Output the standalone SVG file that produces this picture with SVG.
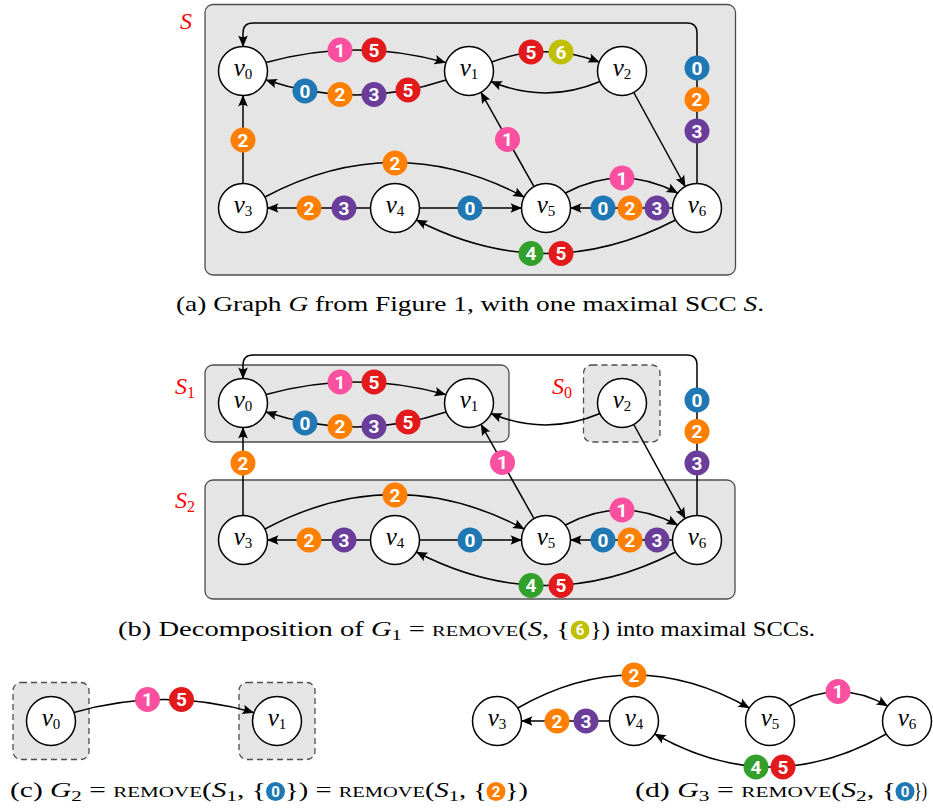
<svg xmlns="http://www.w3.org/2000/svg" width="933" height="810" viewBox="0 0 933 810">
<style>
.box{fill:#e5e5e5;stroke:#4d4d4d;stroke-width:1.3}
.dbox{fill:#e5e5e5;stroke:#4d4d4d;stroke-width:1.3;stroke-dasharray:6 4}
.node circle{fill:#fff;stroke:#000;stroke-width:1.5}
.nl{font-family:"Liberation Serif",serif;font-style:italic;font-size:25px;text-anchor:middle;fill:#000}
.sub{font-style:normal;font-size:15px}
.e{fill:none;stroke:#000;stroke-width:1.5}
.a{marker-end:url(#arr)}
.bt{font-family:Roboto,"Liberation Sans",sans-serif;font-weight:700;font-size:19px;fill:#fff;text-anchor:middle}
.bs{font-family:Roboto,"Liberation Sans",sans-serif;font-weight:700;font-size:15px;fill:#fff;text-anchor:middle}
.k0{fill:#1f78b4}.k1{fill:#fb4fa0}.k2{fill:#ff7f00}.k3{fill:#6a3d9a}.k4{fill:#33a02c}.k5{fill:#e31a1c}.k6{fill:#c0bf00}
.lab{font-family:"Liberation Serif",serif;font-style:italic;font-size:24px;fill:#ff0000}
.lsub{font-style:normal;font-size:16px}
.cap{font-family:"Liberation Serif",serif;font-size:21px;fill:#000}
.i{font-style:italic}
.sc{font-variant:small-caps}
.cs{font-size:15px}
</style>
<defs>
<marker id="arr" viewBox="-12 -6 13 12" refX="0" refY="0" markerWidth="13" markerHeight="12" markerUnits="userSpaceOnUse" orient="auto">
<path d="M0.5,0 L-11,-4.8 Q-7.5,0 -11,4.8 Z" fill="#000"/>
</marker>
</defs>

<g id="boxes">
<rect class="box" x="205" y="4.5" width="530.5" height="270.5" rx="8"/>
<rect class="box" x="205" y="365" width="304" height="77" rx="8"/>
<rect class="dbox" x="583.5" y="365" width="76.5" height="77" rx="8"/>
<rect class="box" x="205" y="480" width="530" height="119" rx="8"/>
<rect class="dbox" x="13" y="682.5" width="76" height="77" rx="8"/>
<rect class="dbox" x="239" y="682.5" width="76" height="77" rx="8"/>
</g>
<g id="labels">
<text class="lab" x="180" y="29">S</text>
<text class="lab" x="175" y="394">S<tspan class="lsub" dy="4">1</tspan></text>
<text class="lab" x="552" y="394">S<tspan class="lsub" dy="4">0</tspan></text>
<text class="lab" x="175" y="508">S<tspan class="lsub" dy="4">2</tspan></text>
</g>

<g id="connectors">
<path class="e a" d="M266,62.5 C326,45.8 385.7,45.8 445.5,62.5"/>
<path class="e a" d="M446,80 C386,100 326,100 266,80"/>
<path class="e a" d="M491.8,62 C527.6,48.2 563.4,48.2 599.2,62"/>
<path class="e a" d="M600,81.5 C563.7,96.8 527.3,96.8 491,81.5"/>
<path class="e a" d="M697,183.5 V33 Q697,23 687,23 H253 Q243,23 243,33 V46.5"/>
<path class="e a" d="M633.8,92.5 L685.2,186.5"/>
<path class="e a" d="M534,186.6 L481,92.4"/>
<path class="e a" d="M243,183.5 L243,95.5"/>
<path class="e a" d="M264.9,197 C351.3,151 437.7,151 524.1,197"/>
<path class="e a" d="M370.5,208 L267.5,208"/>
<path class="e a" d="M419.5,208 L521.5,208"/>
<path class="e a" d="M672.5,208 L570.5,208"/>
<path class="e a" d="M565.4,193 C602.8,173 640.2,173 677.6,193"/>
<path class="e a" d="M675.6,220 C589.2,264.7 502.8,264.7 416.4,220"/>
<path class="e a" d="M266,394.5 C326,377.8 385.7,377.8 445.5,394.5"/>
<path class="e a" d="M446,412 C386,432 326,432 266,412"/>
<path class="e a" d="M600,413.5 C563.7,428.8 527.3,428.8 491,413.5"/>
<path class="e a" d="M697,515.5 V365 Q697,355 687,355 H253 Q243,355 243,365 V378.5"/>
<path class="e a" d="M633.8,424.5 L685.2,518.5"/>
<path class="e a" d="M534,518.6 L481,424.4"/>
<path class="e a" d="M243,515.5 L243,427.5"/>
<path class="e a" d="M264.9,529 C351.3,483 437.7,483 524.1,529"/>
<path class="e a" d="M370.5,540 L267.5,540"/>
<path class="e a" d="M419.5,540 L521.5,540"/>
<path class="e a" d="M672.5,540 L570.5,540"/>
<path class="e a" d="M565.4,525 C602.8,505 640.2,505 677.6,525"/>
<path class="e a" d="M675.6,552 C589.2,596.7 502.8,596.7 416.4,552"/>
<path class="e a" d="M74,712.5 C133.8,695.2 193.7,695.2 253.5,712.5"/>
<path class="e a" d="M517.8,708 C595,664 672,664 749.2,708"/>
<path class="e a" d="M789.4,706 C822.1,686.9 854.9,686.9 887.6,706"/>
<path class="e a" d="M609.5,721 L521.5,721"/>
<path class="e a" d="M886.2,734 C809.1,778 731.9,778 654.8,734"/>

<circle class="k1" cx="340" cy="50" r="12.5"/><text class="bt" x="340" y="56.8">1</text>
<circle class="k5" cx="374" cy="50" r="12.5"/><text class="bt" x="374" y="56.8">5</text>
<circle class="k0" cx="305" cy="91" r="12.5"/><text class="bt" x="305" y="97.8">0</text>
<circle class="k2" cx="340" cy="94.5" r="12.5"/><text class="bt" x="340" y="101.3">2</text>
<circle class="k3" cx="374" cy="94.5" r="12.5"/><text class="bt" x="374" y="101.3">3</text>
<circle class="k5" cx="408" cy="90" r="12.5"/><text class="bt" x="408" y="96.8">5</text>
<circle class="k5" cx="531" cy="52" r="12.5"/><text class="bt" x="531" y="58.8">5</text>
<circle class="k6" cx="561" cy="52" r="12.5"/><text class="bt" x="561" y="58.8">6</text>
<circle class="k0" cx="697" cy="68" r="12.5"/><text class="bt" x="697" y="74.8">0</text>
<circle class="k2" cx="697" cy="99.5" r="12.5"/><text class="bt" x="697" y="106.3">2</text>
<circle class="k3" cx="697" cy="131" r="12.5"/><text class="bt" x="697" y="137.8">3</text>
<circle class="k1" cx="507.5" cy="139.5" r="12.5"/><text class="bt" x="507.5" y="146.3">1</text>
<circle class="k2" cx="243" cy="140" r="12.5"/><text class="bt" x="243" y="146.8">2</text>
<circle class="k2" cx="395" cy="163" r="12.5"/><text class="bt" x="395" y="169.8">2</text>
<circle class="k2" cx="309" cy="208" r="12.5"/><text class="bt" x="309" y="214.8">2</text>
<circle class="k3" cx="344" cy="208" r="12.5"/><text class="bt" x="344" y="214.8">3</text>
<circle class="k0" cx="470" cy="208" r="12.5"/><text class="bt" x="470" y="214.8">0</text>
<circle class="k0" cx="603" cy="208" r="12.5"/><text class="bt" x="603" y="214.8">0</text>
<circle class="k2" cx="630" cy="208" r="12.5"/><text class="bt" x="630" y="214.8">2</text>
<circle class="k3" cx="657" cy="208" r="12.5"/><text class="bt" x="657" y="214.8">3</text>
<circle class="k1" cx="622" cy="178" r="12.5"/><text class="bt" x="622" y="184.8">1</text>
<circle class="k4" cx="531" cy="253.5" r="12.5"/><text class="bt" x="531" y="260.3">4</text>
<circle class="k5" cx="561" cy="253.5" r="12.5"/><text class="bt" x="561" y="260.3">5</text>
<circle class="k1" cx="340" cy="382" r="12.5"/><text class="bt" x="340" y="388.8">1</text>
<circle class="k5" cx="374" cy="382" r="12.5"/><text class="bt" x="374" y="388.8">5</text>
<circle class="k0" cx="305" cy="423" r="12.5"/><text class="bt" x="305" y="429.8">0</text>
<circle class="k2" cx="340" cy="426.5" r="12.5"/><text class="bt" x="340" y="433.3">2</text>
<circle class="k3" cx="374" cy="426.5" r="12.5"/><text class="bt" x="374" y="433.3">3</text>
<circle class="k5" cx="408" cy="422" r="12.5"/><text class="bt" x="408" y="428.8">5</text>
<circle class="k0" cx="697" cy="400" r="12.5"/><text class="bt" x="697" y="406.8">0</text>
<circle class="k2" cx="697" cy="431.5" r="12.5"/><text class="bt" x="697" y="438.3">2</text>
<circle class="k3" cx="697" cy="463" r="12.5"/><text class="bt" x="697" y="469.8">3</text>
<circle class="k1" cx="502.5" cy="462.5" r="12.5"/><text class="bt" x="502.5" y="469.3">1</text>
<circle class="k2" cx="243" cy="463" r="12.5"/><text class="bt" x="243" y="469.8">2</text>
<circle class="k2" cx="395" cy="495" r="12.5"/><text class="bt" x="395" y="501.8">2</text>
<circle class="k2" cx="309" cy="540" r="12.5"/><text class="bt" x="309" y="546.8">2</text>
<circle class="k3" cx="344" cy="540" r="12.5"/><text class="bt" x="344" y="546.8">3</text>
<circle class="k0" cx="470" cy="540" r="12.5"/><text class="bt" x="470" y="546.8">0</text>
<circle class="k0" cx="603" cy="540" r="12.5"/><text class="bt" x="603" y="546.8">0</text>
<circle class="k2" cx="630" cy="540" r="12.5"/><text class="bt" x="630" y="546.8">2</text>
<circle class="k3" cx="657" cy="540" r="12.5"/><text class="bt" x="657" y="546.8">3</text>
<circle class="k1" cx="622" cy="510" r="12.5"/><text class="bt" x="622" y="516.8">1</text>
<circle class="k4" cx="531" cy="585.5" r="12.5"/><text class="bt" x="531" y="592.3">4</text>
<circle class="k5" cx="561" cy="585.5" r="12.5"/><text class="bt" x="561" y="592.3">5</text>
<circle class="k1" cx="147.5" cy="699.5" r="12.5"/><text class="bt" x="147.5" y="706.3">1</text>
<circle class="k5" cx="181.5" cy="699.5" r="12.5"/><text class="bt" x="181.5" y="706.3">5</text>
<circle class="k2" cx="634" cy="675" r="12.5"/><text class="bt" x="634" y="681.8">2</text>
<circle class="k1" cx="838" cy="691.5" r="12.5"/><text class="bt" x="838" y="698.3">1</text>
<circle class="k2" cx="557" cy="721" r="12.5"/><text class="bt" x="557" y="727.8">2</text>
<circle class="k3" cx="586" cy="721" r="12.5"/><text class="bt" x="586" y="727.8">3</text>
<circle class="k4" cx="756" cy="767" r="12.5"/><text class="bt" x="756" y="773.8">4</text>
<circle class="k5" cx="783" cy="767" r="12.5"/><text class="bt" x="783" y="773.8">5</text>
</g>

<g id="a-v0" class="node"><circle cx="243" cy="71" r="24.5"/><text class="nl" x="243" y="76">v<tspan class="sub" dy="3">0</tspan></text></g>
<g id="a-v1" class="node"><circle cx="469" cy="71" r="24.5"/><text class="nl" x="469" y="76">v<tspan class="sub" dy="3">1</tspan></text></g>
<g id="a-v2" class="node"><circle cx="622" cy="71" r="24.5"/><text class="nl" x="622" y="76">v<tspan class="sub" dy="3">2</tspan></text></g>
<g id="a-v3" class="node"><circle cx="243" cy="208" r="24.5"/><text class="nl" x="243" y="213">v<tspan class="sub" dy="3">3</tspan></text></g>
<g id="a-v4" class="node"><circle cx="395" cy="208" r="24.5"/><text class="nl" x="395" y="213">v<tspan class="sub" dy="3">4</tspan></text></g>
<g id="a-v5" class="node"><circle cx="546" cy="208" r="24.5"/><text class="nl" x="546" y="213">v<tspan class="sub" dy="3">5</tspan></text></g>
<g id="a-v6" class="node"><circle cx="697" cy="208" r="24.5"/><text class="nl" x="697" y="213">v<tspan class="sub" dy="3">6</tspan></text></g>
<g id="b-v0" class="node"><circle cx="243" cy="403" r="24.5"/><text class="nl" x="243" y="408">v<tspan class="sub" dy="3">0</tspan></text></g>
<g id="b-v1" class="node"><circle cx="469" cy="403" r="24.5"/><text class="nl" x="469" y="408">v<tspan class="sub" dy="3">1</tspan></text></g>
<g id="b-v2" class="node"><circle cx="622" cy="403" r="24.5"/><text class="nl" x="622" y="408">v<tspan class="sub" dy="3">2</tspan></text></g>
<g id="b-v3" class="node"><circle cx="243" cy="540" r="24.5"/><text class="nl" x="243" y="545">v<tspan class="sub" dy="3">3</tspan></text></g>
<g id="b-v4" class="node"><circle cx="395" cy="540" r="24.5"/><text class="nl" x="395" y="545">v<tspan class="sub" dy="3">4</tspan></text></g>
<g id="b-v5" class="node"><circle cx="546" cy="540" r="24.5"/><text class="nl" x="546" y="545">v<tspan class="sub" dy="3">5</tspan></text></g>
<g id="b-v6" class="node"><circle cx="697" cy="540" r="24.5"/><text class="nl" x="697" y="545">v<tspan class="sub" dy="3">6</tspan></text></g>
<g id="c-v0" class="node"><circle cx="51" cy="721" r="24.5"/><text class="nl" x="51" y="726">v<tspan class="sub" dy="3">0</tspan></text></g>
<g id="c-v1" class="node"><circle cx="277" cy="721" r="24.5"/><text class="nl" x="277" y="726">v<tspan class="sub" dy="3">1</tspan></text></g>
<g id="d-v3" class="node"><circle cx="497" cy="721" r="24.5"/><text class="nl" x="497" y="726">v<tspan class="sub" dy="3">3</tspan></text></g>
<g id="d-v4" class="node"><circle cx="634" cy="721" r="24.5"/><text class="nl" x="634" y="726">v<tspan class="sub" dy="3">4</tspan></text></g>
<g id="d-v5" class="node"><circle cx="770" cy="721" r="24.5"/><text class="nl" x="770" y="726">v<tspan class="sub" dy="3">5</tspan></text></g>
<g id="d-v6" class="node"><circle cx="907" cy="721" r="24.5"/><text class="nl" x="907" y="726">v<tspan class="sub" dy="3">6</tspan></text></g>

<g id="captions">
<text class="cap" x="176" y="311" textLength="588" lengthAdjust="spacingAndGlyphs">(a) Graph <tspan class="i">G</tspan> from Figure 1, with one maximal SCC <tspan class="i">S</tspan>.</text>
<text class="cap" x="118" y="636" textLength="452" lengthAdjust="spacingAndGlyphs">(b) Decomposition of <tspan class="i">G</tspan><tspan class="cs" dy="4">1</tspan><tspan dy="-4"> = </tspan><tspan class="sc">remove</tspan>(<tspan class="i">S</tspan>, {</text>
<circle class="k6" cx="580" cy="630" r="9.5"/><text class="bs" x="580" y="635.3">6</text>
<text class="cap" x="590" y="636" textLength="225" lengthAdjust="spacingAndGlyphs">}) into maximal SCCs.</text>
<text class="cap" x="10" y="797" textLength="256" lengthAdjust="spacingAndGlyphs">(c) <tspan class="i">G</tspan><tspan class="cs" dy="4">2</tspan><tspan dy="-4"> = </tspan><tspan class="sc">remove</tspan>(<tspan class="i">S</tspan><tspan class="cs" dy="4">1</tspan><tspan dy="-4">, {</tspan></text>
<circle class="k0" cx="275.5" cy="791.5" r="9.5"/><text class="bs" x="275.5" y="796.8">0</text>
<text class="cap" x="285" y="797" textLength="202" lengthAdjust="spacingAndGlyphs">}) = <tspan class="sc">remove</tspan>(<tspan class="i">S</tspan><tspan class="cs" dy="4">1</tspan><tspan dy="-4">, {</tspan></text>
<circle class="k2" cx="496" cy="791.5" r="9.5"/><text class="bs" x="496" y="796.8">2</text>
<text class="cap" x="505" y="797" textLength="23" lengthAdjust="spacingAndGlyphs">})</text>
<text class="cap" x="635" y="797" textLength="261" lengthAdjust="spacingAndGlyphs">(d) <tspan class="i">G</tspan><tspan class="cs" dy="4">3</tspan><tspan dy="-4"> = </tspan><tspan class="sc">remove</tspan>(<tspan class="i">S</tspan><tspan class="cs" dy="4">2</tspan><tspan dy="-4">, {</tspan></text>
<circle class="k0" cx="905" cy="791.5" r="9.5"/><text class="bs" x="905" y="796.8">0</text>
<text class="cap" x="914" y="797" textLength="13" lengthAdjust="spacingAndGlyphs">})</text>
</g>
</svg>
